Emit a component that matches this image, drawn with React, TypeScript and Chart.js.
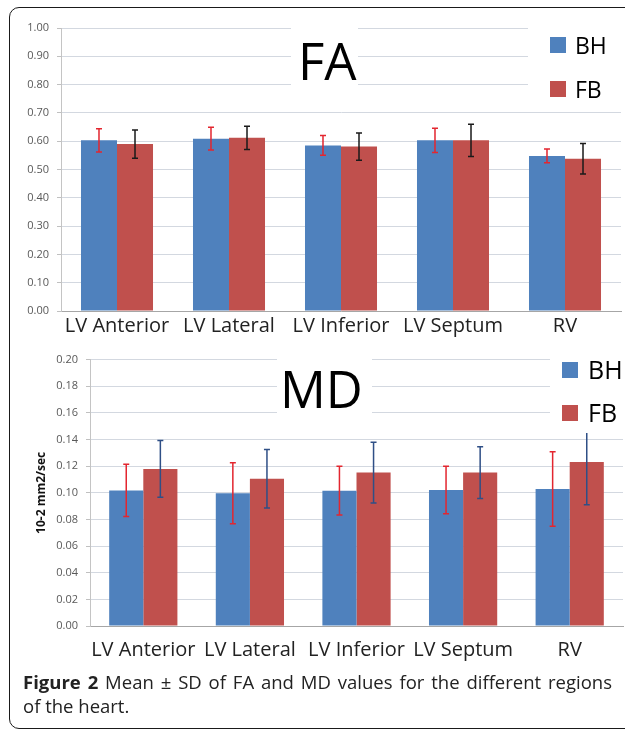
import { useEffect, useRef } from 'react';
import { Chart, registerables } from 'chart.js';

Chart.register(...registerables);

const FONT = "'Open Sans', 'Noto Sans', sans-serif";

// ---------- data ----------
const categories = ['LV Anterior', 'LV Lateral', 'LV Inferior', 'LV Septum', 'RV'];
const seriesNames = ['BH', 'FB'];

const faBH = [0.603, 0.609, 0.585, 0.603, 0.548];
const faBHsd = [0.041, 0.040, 0.035, 0.043, 0.024];
const faFB = [0.590, 0.612, 0.581, 0.603, 0.538];
const faFBsd = [0.050, 0.041, 0.048, 0.057, 0.054];

const mdBH = [0.1018, 0.0996, 0.1016, 0.1021, 0.1028];
const mdBHsd = [0.0196, 0.0229, 0.0183, 0.0178, 0.028];
const mdFB = [0.1179, 0.1105, 0.1152, 0.1152, 0.1231];
const mdFBsd = [0.0213, 0.022, 0.0228, 0.0194, 0.032];

const faAxis = { min: 0, max: 1, step: 0.1 };
const mdAxis = { min: 0, max: 0.2, step: 0.02 };
const mdAxisTitle = '10-2 mm2/sec';

const BLUE = '#4f81bd';
const RED = '#c0504d';

// ---------- plugins ----------
const errorBarPlugin = {
  id: 'errorBars',
  afterDatasetsDraw(chart: any) {
    const { ctx } = chart;
    const ys = chart.scales.y;
    chart.data.datasets.forEach((ds: any, i: number) => {
      const meta = chart.getDatasetMeta(i);
      meta.data.forEach((bar: any, j: number) => {
        const v = ds.data[j];
        const e = ds.errors[j];
        const top = ys.getPixelForValue(v + e);
        const bot = ys.getPixelForValue(v - e);
        ctx.save();
        ctx.strokeStyle = ds.errorColor;
        ctx.lineWidth = 1.5;
        ctx.beginPath();
        ctx.moveTo(bar.x, top);
        ctx.lineTo(bar.x, bot);
        ctx.moveTo(bar.x - 3, top);
        ctx.lineTo(bar.x + 3, top);
        ctx.moveTo(bar.x - 3, bot);
        ctx.lineTo(bar.x + 3, bot);
        ctx.stroke();
        ctx.restore();
      });
    });
  },
};

const overlayPlugin = {
  id: 'overlay',
  afterDatasetsDraw(chart: any, _args: any, opts: any) {
    const { ctx } = chart;
    ctx.save();
    ctx.fillStyle = '#ffffff';
    for (const b of opts.boxes) ctx.fillRect(b[0], b[1], b[2] - b[0], b[3] - b[1]);
    // title
    ctx.fillStyle = '#000000';
    ctx.textAlign = 'left';
    ctx.textBaseline = 'alphabetic';
    ctx.font = `${opts.titleSize}px ${FONT}`;
    ctx.fillText(opts.title, opts.titleX, opts.titleY);
    // legend
    ctx.font = `${opts.legendSize}px ${FONT}`;
    chart.data.datasets.forEach((ds: any, i: number) => {
      const y = opts.legendY[i];
      ctx.fillStyle = ds.backgroundColor;
      ctx.fillRect(opts.legendX, y, 16, 16);
      ctx.fillStyle = '#000000';
      ctx.fillText(ds.label, opts.legendTextX, y + 16.5);
    });
    ctx.restore();
  },
};

function makeConfig(p: any): any {
  return {
    type: 'bar',
    data: {
      labels: categories,
      datasets: [
        {
          label: seriesNames[0],
          data: p.a,
          errors: p.aErr,
          errorColor: p.aErrColor,
          backgroundColor: BLUE,
          categoryPercentage: p.catPct,
          barPercentage: 1,
        },
        {
          label: seriesNames[1],
          data: p.b,
          errors: p.bErr,
          errorColor: p.bErrColor,
          backgroundColor: RED,
          categoryPercentage: p.catPct,
          barPercentage: 1,
        },
      ],
    },
    plugins: [errorBarPlugin, overlayPlugin],
    options: {
      responsive: false,
      animation: false,
      events: [],
      layout: { padding: p.padding },
      plugins: {
        legend: { display: false },
        tooltip: { enabled: false },
        title: { display: false },
        overlay: p.overlay,
      },
      scales: {
        x: {
          grid: { display: false, drawTicks: false },
          border: { color: '#a6a6a6', width: 1 },
          ticks: {
            color: '#222222',
            padding: p.xPad,
            font: { family: FONT, size: 20 },
            maxRotation: 0,
            autoSkip: false,
          },
          afterFit: (s: any) => {
            s.height = p.xHeight;
          },
        },
        y: {
          min: p.axis.min,
          max: p.axis.max,
          grid: { color: '#d3d8e0', lineWidth: 1, tickLength: 4, tickColor: '#c0c0c0' },
          border: { color: '#c4c4c4', width: 1 },
          ticks: {
            stepSize: p.axis.step,
            color: '#595959',
            padding: 8,
            font: { family: FONT, size: 11 },
            callback: (v: number) => Number(v).toFixed(2),
          },
          title: p.yTitle
            ? {
                display: true,
                text: p.yTitle,
                color: '#111111',
                font: { family: FONT, size: 12, weight: 'bold' },
                padding: { top: 34, bottom: 0 },
              }
            : { display: false },
          afterFit: (s: any) => {
            s.width = p.yWidth;
          },
        },
      },
    },
  };
}

export default function App() {
  const faRef = useRef<HTMLCanvasElement>(null);
  const mdRef = useRef<HTMLCanvasElement>(null);

  useEffect(() => {
    const c1 = new Chart(
      faRef.current as HTMLCanvasElement,
      makeConfig({
        a: faBH,
        aErr: faBHsd,
        aErrColor: '#e3262f',
        b: faFB,
        bErr: faFBsd,
        bErrColor: '#1a1a1a',
        axis: faAxis,
        catPct: 0.643,
        padding: { left: 0, right: 4, top: 28, bottom: 0 },
        yWidth: 61,
        xHeight: 34,
        xPad: 3,
        overlay: {
          boxes: [
            [291, 18, 358, 100],
            [528, 18, 625, 100],
          ],
          title: 'FA',
          titleSize: 51,
          titleX: 298,
          titleY: 80,
          legendSize: 23,
          legendX: 550,
          legendTextX: 575,
          legendY: [37, 81],
        },
      })
    );
    const c2 = new Chart(
      mdRef.current as HTMLCanvasElement,
      makeConfig({
        a: mdBH,
        aErr: mdBHsd,
        aErrColor: '#e3262f',
        b: mdFB,
        bErr: mdFBsd,
        bErrColor: '#2f4f86',
        axis: mdAxis,
        catPct: 0.64,
        padding: { left: 0, right: 2, top: 11, bottom: 0 },
        yWidth: 90,
        xHeight: 44,
        xPad: 12,
        yTitle: mdAxisTitle,
        overlay: {
          boxes: [
            [277, 4, 372, 80],
            [550, 4, 625, 88],
          ],
          title: 'MD',
          titleSize: 51,
          titleX: 280,
          titleY: 63,
          legendSize: 25,
          legendX: 562,
          legendTextX: 588,
          legendY: [17, 60],
        },
      })
    );
    return () => {
      c1.destroy();
      c2.destroy();
    };
  }, []);

  return (
    <div
      style={{
        position: 'fixed',
        left: 0,
        top: 0,
        width: 625,
        height: 733,
        overflow: 'hidden',
        background: '#ffffff',
        fontFamily: FONT,
      }}
    >
      <div
        style={{
          position: 'absolute',
          left: 9,
          top: 7,
          width: 660,
          height: 722,
          border: '1.5px solid #1a1a1a',
          borderRadius: 10,
          boxSizing: 'border-box',
        }}
      />
      <canvas
        ref={faRef}
        width={625}
        height={345}
        style={{ position: 'absolute', left: 0, top: 0, width: 625, height: 345 }}
      />
      <canvas
        ref={mdRef}
        width={625}
        height={325}
        style={{ position: 'absolute', left: 0, top: 345, width: 625, height: 325 }}
      />
      <div
        style={{
          position: 'absolute',
          left: 23,
          top: 670,
          width: 589,
          fontSize: 18.5,
          lineHeight: '24px',
          color: '#222222',
        }}
      >
        <div style={{ textAlign: 'justify', textAlignLast: 'justify', whiteSpace: 'nowrap' }}>
          <b>Figure 2</b> Mean ± SD of FA and MD values for the different regions
        </div>
        <div>of the heart.</div>
      </div>
    </div>
  );
}
